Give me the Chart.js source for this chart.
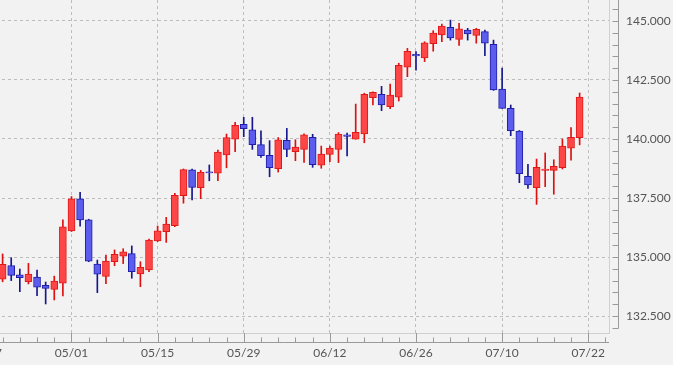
<!DOCTYPE html>
<html>
<head>
<meta charset="utf-8">
<script src="https://cdn.jsdelivr.net/npm/chart.js@4/dist/chart.umd.min.js"></script>
<style>
  html, body { margin:0; padding:0; background:#f2f2f2; overflow:hidden; width:673px; height:365px; }
  #c { position:absolute; left:-40px; top:0; }
</style>
</head>
<body>
<canvas id="c" width="713" height="365"></canvas>
<script>
// trading-day slot of the first candle (slot 0 = 04/17, 10 = 05/01, ...)
const firstSlot = 2;

const open  = [134.06,134.64,134.24,133.95,134.15,133.80,133.63,133.89,136.11,137.46,
               136.57,134.70,134.18,134.80,135.04,135.14,134.28,134.45,135.68,136.07,
               136.33,137.60,138.69,137.94,138.61,138.55,139.33,139.99,140.62,140.39,
               139.76,139.31,138.74,139.94,139.46,139.56,140.07,138.89,139.35,139.56,
               140.18,139.99,140.22,141.75,141.89,141.37,141.77,143.04,143.59,143.44,
               144.04,144.41,144.73,144.22,144.62,144.39,144.55,144.01,142.11,141.30,
               140.34,138.42,137.94,138.67,138.67,138.78,139.61,140.06];
const high  = [135.13,134.97,134.49,134.73,134.45,133.94,134.19,136.57,137.56,137.74,
               136.60,134.87,135.08,135.30,135.35,135.47,134.80,135.76,136.31,136.68,
               137.70,138.73,138.73,138.67,138.90,139.53,140.21,140.71,140.92,140.92,
               140.35,139.93,140.06,140.45,139.97,140.22,140.20,139.70,139.70,140.27,
               140.25,141.48,141.94,142.00,142.23,142.33,143.21,143.84,143.70,144.12,
               144.59,144.87,145.04,144.90,144.69,144.69,144.62,144.19,143.00,141.44,
               140.36,138.93,139.15,139.41,139.12,140.00,140.48,141.95];
const low   = [133.95,134.00,133.53,133.86,133.36,133.01,133.18,133.35,136.08,136.31,
               134.80,133.49,133.87,134.63,134.72,134.10,133.74,134.38,135.65,135.62,
               136.28,137.28,137.42,137.47,138.23,138.23,138.78,139.46,140.10,139.56,
               139.22,138.40,138.60,139.25,139.08,139.01,138.80,138.76,139.04,139.00,
               139.28,139.99,139.84,141.44,141.20,141.28,141.61,142.64,142.92,143.28,
               143.72,144.12,144.19,143.97,144.19,144.06,143.53,142.06,141.30,140.14,
               138.15,137.91,137.23,137.98,137.66,138.73,139.10,139.75];
const close = [134.69,134.22,134.12,134.28,133.72,133.67,133.98,136.28,137.46,136.57,
               134.82,134.27,134.83,135.11,135.22,134.38,134.56,135.72,136.11,136.40,
               137.61,138.70,137.95,138.59,138.56,139.45,140.06,140.58,140.44,139.76,
               139.29,138.78,139.96,139.56,139.66,140.18,138.91,139.36,139.61,140.21,
               140.11,140.28,141.89,141.98,141.44,141.86,143.12,143.72,143.52,144.08,
               144.49,144.79,144.28,144.67,144.45,144.65,144.06,142.08,141.30,140.35,
               138.53,138.05,138.80,138.73,138.84,139.70,140.07,141.78];

const xTickSlots = [0, 10, 20, 30, 40, 50, 60, 70];
const xTickText  = ['04/17','05/01','05/15','05/29','06/12','06/26','07/10','07/22'];

const up = close.map((c, i) => c >= open[i]);
const bodies = open.map((o, i) => ({ x: firstSlot + i, y: [o, close[i]] }));
const wicks  = low.map((l, i) => ({ x: firstSlot + i, y: [l, high[i]] }));

const axisMarks = {
  id: 'axisMarks',
  afterDraw(chart) {
    const { ctx, chartArea: a, scales: { x, y } } = chart;
    ctx.save();
    ctx.strokeStyle = '#9a9a9a';
    ctx.lineWidth = 1;
    ctx.beginPath();
    const by = a.bottom + 9.5;
    ctx.moveTo(a.left, by); ctx.lineTo(a.right, by);
    x.ticks.forEach(t => {
      const px = Math.round(x.getPixelForValue(t.value)) + 0.5;
      ctx.moveTo(px, by); ctx.lineTo(px, t.label ? a.bottom : by - 5);
    });
    const rx = a.right + 9.5;
    let last = a.top;
    for (let v = Math.ceil(y.min * 2) / 2; v <= y.max; v += 0.5) {
      const py = Math.round(y.getPixelForValue(v)) + 0.5;
      ctx.moveTo(rx - 6, py); ctx.lineTo(rx, py);
      if (py > last) last = py;
    }
    ctx.moveTo(rx, a.top); ctx.lineTo(rx, last);
    ctx.stroke();
    ctx.restore();
  }
};

new Chart(document.getElementById('c'), {
  type: 'bar',
  data: {
    datasets: [
      {
        data: bodies,
        backgroundColor: up.map(u => u ? '#ff4646' : '#5c5cee'),
        borderColor: up.map(u => u ? '#e01818' : '#1e1ea6'),
        borderWidth: 1,
        borderSkipped: false,
        grouped: false,
        barPercentage: 1, categoryPercentage: 1,
        maxBarThickness: 7
      },
      {
        data: wicks,
        backgroundColor: up.map(u => u ? '#dd1010' : '#16168e'),
        borderWidth: 0,
        grouped: false,
        barPercentage: 1, categoryPercentage: 1,
        maxBarThickness: 1
      }
    ]
  },
  options: {
    responsive: false,
    animation: false,
    layout: { padding: 0 },
    plugins: { legend: { display: false }, tooltip: { enabled: false } },
    scales: {
      x: {
        type: 'linear',
        min: -2.946, max: 72.41,
        offset: false,
        grid: {
          offset: false,
          drawTicks: false,
          color: c => (c.tick && c.tick.label) ? '#bdbdbd' : 'rgba(0,0,0,0)'
        },
        border: { display: true, color: '#d0d0d0', width: 1, dash: [3, 3] },
        ticks: {
          stepSize: 2,
          includeBounds: false,
          autoSkip: false,
          maxRotation: 0,
          padding: 13,
          color: '#555',
          font: { family: 'Lato', size: 12 },
          callback: v => {
            const k = xTickSlots.indexOf(v);
            return k >= 0 ? xTickText[k] : '';
          }
        },
        afterFit: s => { s.height = 32; s.paddingLeft = 0; s.paddingRight = 0; }
      },
      y: {
        position: 'right',
        min: 131.7797, max: 145.8898,
        grid: { drawTicks: false, color: '#bdbdbd' },
        border: { display: true, color: '#d0d0d0', width: 1, dash: [3, 3] },
        ticks: {
          stepSize: 2.5,
          includeBounds: false,
          padding: 17,
          color: '#555',
          font: { family: 'Lato', size: 12 },
          callback: v => v.toFixed(3)
        },
        afterFit: s => { s.width = 64; s.paddingTop = 0; s.paddingBottom = 0; }
      }
    }
  },
  plugins: [axisMarks]
});
</script>
</body>
</html>
